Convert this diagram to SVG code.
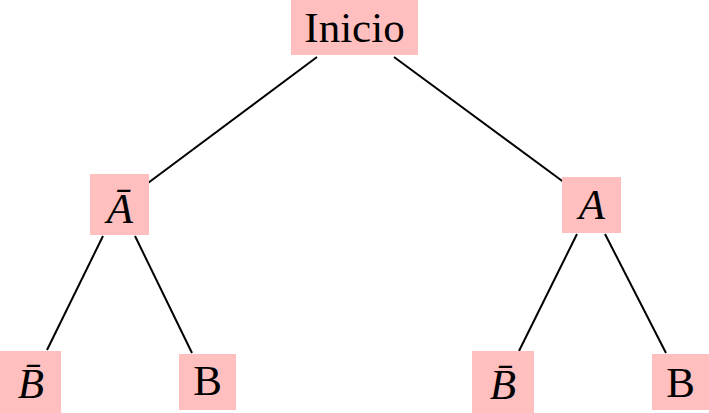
<svg xmlns="http://www.w3.org/2000/svg" width="709" height="413" viewBox="0 0 709 413">
<style>
.box{fill:#ffbfbf;stroke:none}
.t{font-family:"Liberation Serif","Times New Roman",serif;font-size:43px;fill:#000;text-anchor:middle}
.i{font-style:italic}
.e{stroke:#000;stroke-width:2;fill:none}
</style>
<rect width="709" height="413" fill="#fff"/>
<g id="connectors">
<line class="e" x1="317" y1="57" x2="148" y2="183"/>
<line class="e" x1="394" y1="57" x2="565" y2="183"/>
<line class="e" x1="103" y1="236" x2="47" y2="350"/>
<line class="e" x1="135" y1="236" x2="192" y2="353"/>
<line class="e" x1="577" y1="234" x2="519" y2="351"/>
<line class="e" x1="605" y1="234" x2="666" y2="353"/>
</g>
<g id="inicio"><rect class="box" x="291" y="0" width="127" height="55"/><text class="t" x="354.5" y="42">Inicio</text></g>
<g id="notA"><rect class="box" x="90" y="174" width="59" height="61"/><text class="t i" x="120" y="223">A&#x304;</text></g>
<g id="A"><rect class="box" x="562" y="177" width="59" height="56"/><text class="t i" x="592" y="219">A</text></g>
<g id="notB1"><rect class="box" x="0" y="351" width="61" height="62"/><text class="t i" x="31" y="398">B&#x304;</text></g>
<g id="B1"><rect class="box" x="179" y="354" width="57" height="56"/><text class="t" x="207.5" y="395">B</text></g>
<g id="notB2"><rect class="box" x="472" y="351" width="62" height="62"/><text class="t i" x="503" y="399">B&#x304;</text></g>
<g id="B2"><rect class="box" x="652" y="354" width="57" height="56"/><text class="t" x="680.5" y="397">B</text></g>
</svg>
